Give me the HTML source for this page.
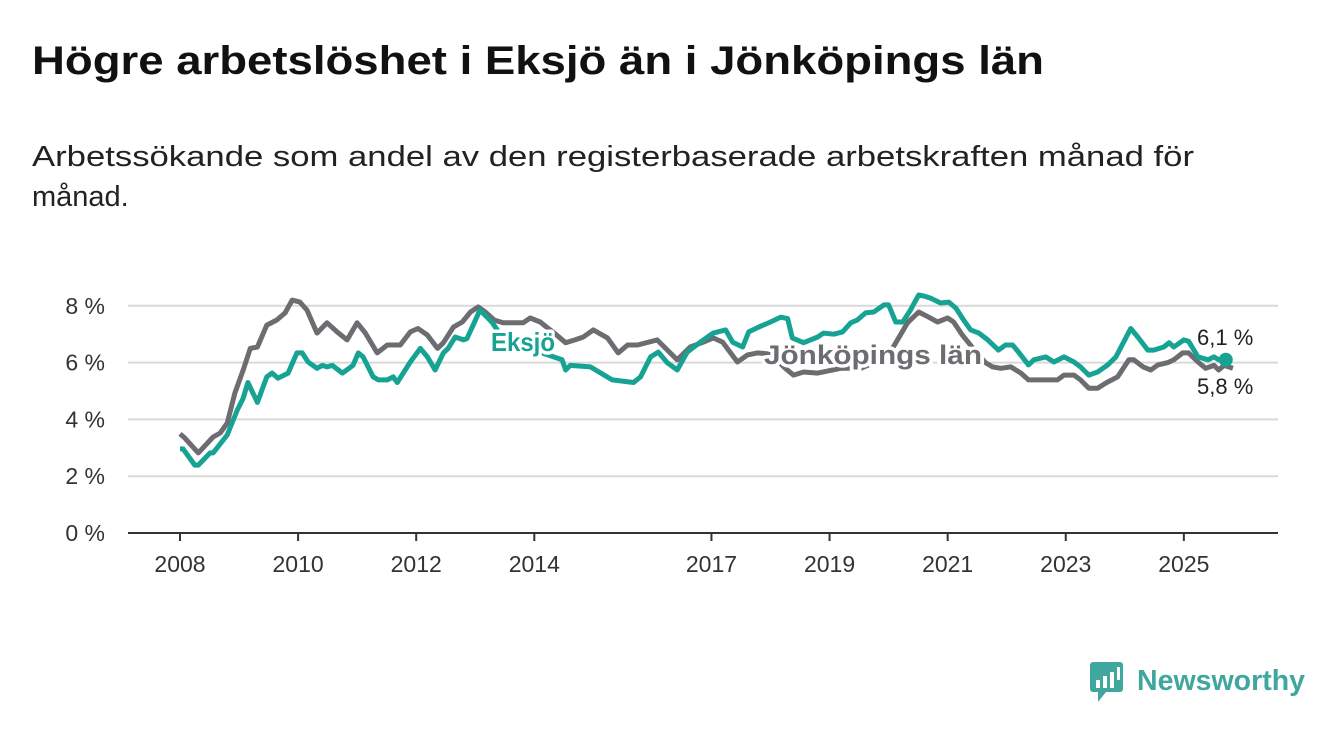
<!DOCTYPE html>
<html><head><meta charset="utf-8"><style>
body{margin:0;background:#fff;}
svg{display:block;font-family:"Liberation Sans",sans-serif;}
</style></head><body>
<svg id="chart" width="1340" height="734" viewBox="0 0 1340 734">
<text x="32" y="74" font-size="40" font-weight="bold" fill="#111" textLength="1012" lengthAdjust="spacingAndGlyphs">Högre arbetslöshet i Eksjö än i Jönköpings län</text>
<text x="32" y="166" font-size="29" fill="#222" textLength="1162" lengthAdjust="spacingAndGlyphs">Arbetssökande som andel av den registerbaserade arbetskraften månad för</text>
<text x="32" y="206" font-size="29" fill="#222">månad.</text>
<g id="grid"></g>
<g id="xaxis"></g>
<g id="series"></g>
<g id="labels"></g>
<g>
<rect x="1090" y="662" width="33" height="30" rx="3" fill="#3fa79d"/>
<polygon points="1098,692 1106,692 1098,702" fill="#3fa79d"/>
<rect x="1096" y="680" width="4" height="8" fill="#fff"/><rect x="1103" y="676" width="4" height="12" fill="#fff"/><rect x="1110" y="672" width="4" height="16" fill="#fff"/><rect x="1117" y="667" width="3" height="13" fill="#fff"/>
<text x="1137" y="690" font-size="29" font-weight="bold" fill="#3fa79d" textLength="168" lengthAdjust="spacingAndGlyphs">Newsworthy</text>
</g>
</svg>
<script>
const yTicks = [0,2,4,6,8];
const yTickLabels = ["0 %","2 %","4 %","6 %","8 %"];
const xTicks = [2008,2010,2012,2014,2017,2019,2021,2023,2025];
const eksjoDates = [2008.0,2008.05,2008.25,2008.31,2008.51,2008.56,2008.80,2008.97,2009.07,2009.15,2009.31,2009.47,2009.56,2009.66,2009.83,2009.98,2010.07,2010.17,2010.32,2010.41,2010.49,2010.58,2010.75,2010.93,2011.02,2011.10,2011.27,2011.36,2011.51,2011.61,2011.68,2011.90,2012.07,2012.19,2012.32,2012.46,2012.54,2012.66,2012.80,2012.86,2013.08,2013.20,2013.29,2013.42,2013.76,2014.19,2014.47,2014.53,2014.61,2014.95,2015.32,2015.68,2015.80,2015.97,2016.10,2016.25,2016.42,2016.59,2016.81,2017.03,2017.24,2017.36,2017.53,2017.63,2017.80,2018.00,2018.17,2018.29,2018.37,2018.56,2018.80,2018.90,2019.07,2019.22,2019.36,2019.47,2019.61,2019.75,2019.92,2020.00,2020.12,2020.24,2020.37,2020.51,2020.59,2020.71,2020.88,2021.02,2021.14,2021.27,2021.39,2021.53,2021.68,2021.86,2021.98,2022.10,2022.20,2022.37,2022.46,2022.66,2022.80,2022.97,2023.14,2023.25,2023.39,2023.54,2023.71,2023.85,2023.98,2024.10,2024.22,2024.39,2024.49,2024.66,2024.75,2024.83,2025.00,2025.08,2025.24,2025.41,2025.51,2025.59,2025.71];
const eksjoValues = [2.96,2.96,2.39,2.39,2.82,2.82,3.45,4.33,4.75,5.3,4.6,5.5,5.63,5.45,5.63,6.34,6.34,6.02,5.8,5.9,5.85,5.9,5.63,5.9,6.34,6.2,5.5,5.39,5.39,5.5,5.3,6.02,6.5,6.2,5.74,6.34,6.5,6.9,6.8,6.85,7.85,7.6,7.4,7.0,6.6,6.3,6.1,5.74,5.9,5.85,5.39,5.3,5.5,6.2,6.37,6.0,5.74,6.37,6.72,7.04,7.15,6.72,6.55,7.08,7.25,7.43,7.6,7.55,6.87,6.7,6.9,7.04,7.0,7.08,7.4,7.5,7.75,7.78,8.03,8.03,7.43,7.43,7.85,8.38,8.35,8.27,8.1,8.13,7.92,7.5,7.15,7.04,6.8,6.44,6.62,6.62,6.37,5.92,6.1,6.2,6.02,6.2,6.02,5.85,5.56,5.67,5.92,6.2,6.72,7.2,6.9,6.44,6.44,6.55,6.7,6.55,6.8,6.75,6.2,6.1,6.2,6.1,6.1];
const jkpDates = [2008.0,2008.08,2008.31,2008.56,2008.68,2008.80,2008.93,2009.07,2009.19,2009.31,2009.47,2009.64,2009.78,2009.90,2010.03,2010.15,2010.32,2010.49,2010.66,2010.83,2011.0,2011.14,2011.34,2011.51,2011.73,2011.90,2012.03,2012.19,2012.36,2012.46,2012.63,2012.78,2012.92,2013.05,2013.17,2013.32,2013.47,2013.81,2013.93,2014.10,2014.36,2014.53,2014.69,2014.83,2015.0,2015.24,2015.42,2015.58,2015.75,2016.08,2016.42,2016.64,2016.86,2017.03,2017.19,2017.44,2017.61,2017.78,2018.0,2018.25,2018.39,2018.56,2018.80,2019.19,2019.53,2019.86,2020.08,2020.32,2020.51,2020.68,2020.83,2021.0,2021.10,2021.25,2021.47,2021.64,2021.76,2021.90,2022.07,2022.24,2022.37,2022.86,2022.97,2023.14,2023.25,2023.39,2023.54,2023.68,2023.88,2024.07,2024.15,2024.31,2024.44,2024.56,2024.73,2024.83,2024.98,2025.08,2025.24,2025.37,2025.51,2025.59,2025.68,2025.83];
const jkpValues = [3.49,3.35,2.82,3.38,3.52,3.87,4.93,5.74,6.5,6.55,7.32,7.5,7.75,8.2,8.13,7.85,7.04,7.4,7.08,6.8,7.4,7.04,6.34,6.62,6.62,7.08,7.2,6.97,6.5,6.7,7.25,7.43,7.78,7.96,7.78,7.5,7.4,7.4,7.57,7.43,7.0,6.7,6.8,6.9,7.15,6.87,6.34,6.62,6.62,6.8,6.1,6.55,6.72,6.87,6.72,6.02,6.27,6.34,6.3,5.8,5.56,5.67,5.63,5.8,5.8,6.1,6.55,7.4,7.78,7.6,7.43,7.57,7.43,6.97,6.4,6.0,5.85,5.8,5.85,5.63,5.39,5.39,5.56,5.56,5.39,5.1,5.1,5.28,5.5,6.1,6.1,5.85,5.74,5.92,6.0,6.1,6.34,6.34,6.02,5.8,5.9,5.74,5.9,5.8];

const NS="http://www.w3.org/2000/svg";
const xS = t => 180 + (t-2008)*59.05;
const yS = v => 533 - v*28.4;
function mk(tag, attrs, parent){const e=document.createElementNS(NS,tag);for(const k in attrs)e.setAttribute(k,attrs[k]);parent.appendChild(e);return e;}
const grid=document.getElementById('grid'), xa=document.getElementById('xaxis'), ser=document.getElementById('series'), lab=document.getElementById('labels');
yTicks.forEach((v,i)=>{
  if(v>0){const l=mk('line',{x1:128,x2:1278,y1:yS(v),y2:yS(v),stroke:'#d9d9d9','stroke-width':2},grid);
  
  }
  const t=mk('text',{x:105,y:yS(v)+8,'text-anchor':'end','font-size':23,fill:'#333'},grid);
  t.textContent=yTickLabels[i];
  
  
});
const ax=mk('line',{x1:128,x2:1278,y1:533,y2:533,stroke:'#333','stroke-width':2},xa);


xTicks.forEach(yr=>{
  mk('line',{x1:xS(yr),x2:xS(yr),y1:533,y2:541,stroke:'#333','stroke-width':2},xa);
  const t=mk('text',{x:xS(yr),y:572,'text-anchor':'middle','font-size':23,fill:'#333'},xa);
  t.textContent=yr;
  
  
});
function path(d,v){return d.map((t,i)=>(i?'L':'M')+xS(t).toFixed(1)+','+yS(v[i]).toFixed(1)).join('');}
const pj=mk('path',{d:path(jkpDates,jkpValues),fill:'none',stroke:'#6d6c71','stroke-width':5,'stroke-linejoin':'round'},ser);


const pe=mk('path',{d:path(eksjoDates,eksjoValues),fill:'none',stroke:'#16a394','stroke-width':5,'stroke-linejoin':'round'},ser);


const de=mk('circle',{cx:xS(eksjoDates[eksjoDates.length-1]),cy:yS(eksjoValues[eksjoValues.length-1]),r:7,fill:'#16a394'},ser);


function label(txt,x,y,col,name,bold,size,len){
  const t=mk('text',{x:x,y:y,fill:col,'font-size':size,'font-weight':bold?'bold':'normal',stroke:'#fff','stroke-width':bold?7:5,'paint-order':'stroke','stroke-linejoin':'round'},lab);
  if(len){t.setAttribute('textLength',len);t.setAttribute('lengthAdjust','spacingAndGlyphs');}
  t.textContent=txt;
  
  
}
label('Eksjö',491,351,'#16a394','series-label-eksjo',true,26,64);
label('Jönköpings län',764,364,'#6d6c71','series-label-jonkopings-lan',true,27,218);
label('6,1 %',1197,345,'#222','end-value-eksjo',false,22);
label('5,8 %',1197,394,'#222','end-value-jonkoping',false,22);
</script>
</body></html>
